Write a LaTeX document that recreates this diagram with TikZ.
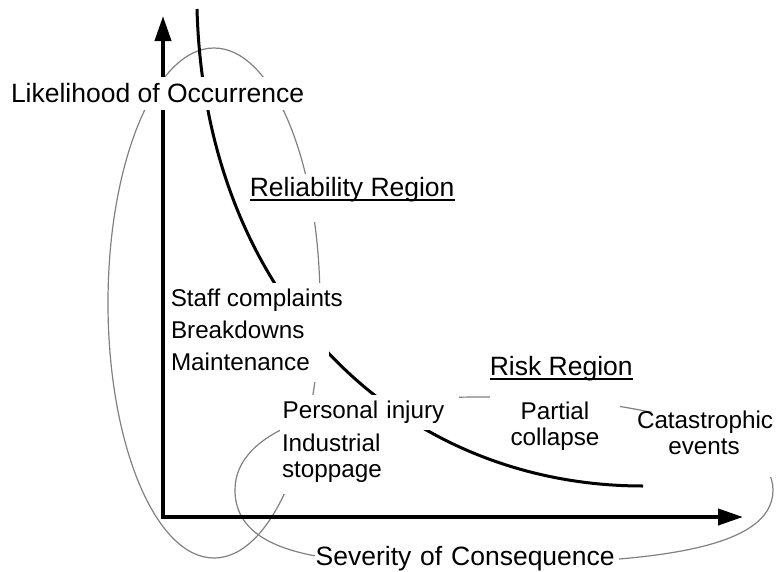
\documentclass[tikz,border=0pt]{standalone}
\usepackage{fontspec}
\setmainfont{Liberation Sans}
\usetikzlibrary{arrows.meta}
\newcommand{\regionline}[1]{\setbox0\hbox{#1}\rlap{\rule[-4.6pt]{\wd0}{2.3pt}}\box0}

\begin{document}
\begin{tikzpicture}[
  x=1pt, y=-1pt,
  axis/.style={line width=4pt,
               {Triangle[length=25pt,width=16pt]}-{Triangle[length=25pt,width=16pt]}},
  zone/.style={draw=black!50, line width=1.2pt},
  boundary/.style={line width=3pt},
  title/.style={fill=white, font=\fontsize{26.5}{31}\selectfont, anchor=base west,
                inner xsep=3pt, inner ysep=4pt, text height=19pt, text depth=1pt},
  effect/.style={fill=white, font=\fontsize{24.25}{26}\selectfont, anchor=base west,
                 inner xsep=2pt, inner ysep=6pt, text height=17.5pt, text depth=6pt}
]
  \useasboundingbox (0,0) rectangle (777,571);

  \draw[zone] (214,303) ellipse [x radius=106, y radius=255];
  \draw[zone] (235,490) .. controls (235,430) and (330,397) .. (480,397)
              .. controls (650,396) and (773,435) .. (773,490)
              .. controls (773,550) and (650,564) .. (470,564)
              .. controls (360,564) and (235,565) .. cycle;

  \draw[boundary] (197,9) .. controls (205,300) and (400,486) .. (643,486);

  \coordinate (origin) at (163,517);
  \coordinate (ytip) at (163,16);
  \coordinate (xtip) at (743,517);
  \draw[axis] (ytip) -- (origin) -- (xtip);

  \node[title, inner ysep=6.5pt] (likely) at (7.8,102.5) {Likelihood of Occurrence};
  \node[title, text depth=21pt] (reliab) at (246.6,196.7) {\regionline{Reliability Region}};
  \node[title] (riskreg) at (486.6,375.7) {\regionline{Risk Region}};
  \node[title, inner xsep=1pt, text width=302pt, align=left] (severity) at (314.5,565)
    {Severity of Consequence};

  \node[effect] (staff) at (168.6,306.7) {Staff complaints};
  \node[effect, text width=156pt, align=left] (breakdown) at (168.8,338.3) {Breakdowns};
  \node[effect, text width=156pt, align=left] (maint) at (168.8,370) {Maintenance};
  \node[effect, text width=174pt, align=left] (injury) at (280.4,418.3) {Personal injury};
  \node[effect, text width=104pt, align=left, text depth=36pt] (stoppage) at (279.8,451.7)
    {Industrial\\stoppage};
  \node[effect, anchor=base, text width=120pt, inner xsep=5pt, align=center,
        text depth=30pt] (collapse) at (555,419) {Partial\\collapse};
  \node[effect, anchor=base, text width=134pt, inner ysep=0pt, align=center,
        text height=16pt, text depth=48.7pt] (catastrophe) at (704,428.3) {Catastrophic\\events};
\end{tikzpicture}
\end{document}
